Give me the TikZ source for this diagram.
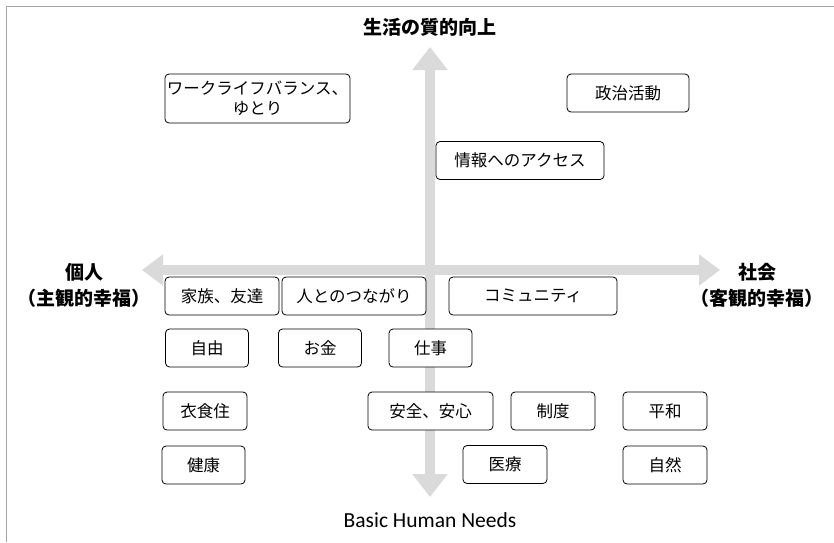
\documentclass[tikz,border=0pt]{standalone}
\usepackage{fontspec}
\setmainfont{Noto Sans CJK JP}
\newfontfamily\latinfont{Carlito}
\usetikzlibrary{arrows.meta}
\definecolor{axisgray}{RGB}{218,218,218}
\definecolor{framegray}{RGB}{165,165,165}

\begin{document}
\begin{tikzpicture}[
	x = 1pt, y = -1pt,
	box/.style = {draw, rounded corners = 4pt, fill = white, line width = 0.8pt, minimum height = 38pt, inner sep = 0pt, align = center, font = \fontsize{16.5}{20}\selectfont},
	axislabel/.style = {align = center, inner sep = 0pt, font = \fontsize{19}{26}\selectfont\bfseries},
	vhead/.tip = {Triangle[width = 34pt, length = 23pt]},
	hhead/.tip = {Triangle[width = 30pt, length = 21pt]}
	]
	\useasboundingbox (0,0) rectangle (834,542);
	\draw[framegray, line width = 1pt] (834,6) -- (6,6) -- (6,542);

	% axes
	\coordinate (up) at (430,47);
	\coordinate (down) at (430,497);
	\coordinate (left) at (142,270);
	\coordinate (right) at (720,270);
	\draw[axisgray, line width = 10pt, vhead-vhead] (up) -- (down);
	\draw[axisgray, line width = 10pt, hhead-hhead] (left) -- (right);

	% axis labels
	\node[axislabel] (quality) at (430,27) {生活の質的向上};
	\node[axislabel] (kojin) at (84,285) {個人\\（主観的幸福）};
	\node[axislabel] (shakai) at (757,285) {社会\\（客観的幸福）};
	\node[inner sep = 0pt, font = \latinfont\fontsize{21.5}{24}\selectfont] (needs) at (430,520) {Basic Human Needs};

	% upper half
	\node[box, minimum width = 185pt, minimum height = 49pt] (wlb) at (257.5,98.5) {ワークライフバランス、\\ゆとり};
	\node[box, minimum width = 122pt] (seiji) at (628,93) {政治活動};
	\node[box, minimum width = 168pt] (joho) at (520,160.5) {情報へのアクセス};

	% middle rows
	\node[box, minimum width = 114pt] (kazoku) at (222,296) {家族、友達};
	\node[box, minimum width = 144pt] (hito) at (354,296) {人とのつながり};
	\node[box, minimum width = 168pt] (community) at (533,296) {コミュニティ};
	\node[box, minimum width = 83pt] (jiyu) at (207,348) {自由};
	\node[box, minimum width = 83pt] (okane) at (320,348) {お金};
	\node[box, minimum width = 83pt] (shigoto) at (430.5,348) {仕事};

	% lower rows
	\node[box, minimum width = 84pt] (ishokuju) at (205,411) {衣食住};
	\node[box, minimum width = 125pt] (anzen) at (430.5,411) {安全、安心};
	\node[box, minimum width = 84pt] (seido) at (553,411) {制度};
	\node[box, minimum width = 84pt] (heiwa) at (665,411) {平和};
	\node[box, minimum width = 83pt] (kenko) at (203.5,465) {健康};
	\node[box, minimum width = 84pt] (iryo) at (505,464.5) {医療};
	\node[box, minimum width = 84pt] (shizen) at (665,465) {自然};
\end{tikzpicture}
\end{document}
